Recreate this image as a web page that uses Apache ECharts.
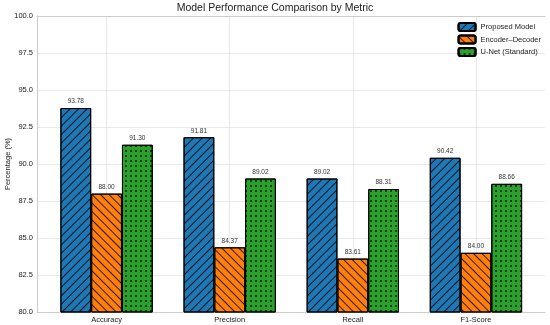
<!DOCTYPE html>
<html><head><meta charset="utf-8">
<script src="https://cdn.jsdelivr.net/npm/echarts@6/dist/echarts.min.js"></script>
<style>html,body{margin:0;padding:0;background:#fff}#c{width:550px;height:325px}</style>
</head><body><div id="c"></div>
<script>
const categories = ['Accuracy', 'Precision', 'Recall', 'F1-Score'];
const proposed = [93.78, 91.81, 89.02, 90.42];
const encoderDecoder = [88.00, 84.37, 83.61, 84.00];
const unet = [91.30, 89.02, 88.31, 88.66];
const seriesNames = ['Proposed Model', 'Encoder–Decoder', 'U-Net (Standard)'];

const chart = echarts.init(document.getElementById('c'), null, {renderer: 'canvas'});
const lbl = {show: true, position: 'top', distance: 3, fontSize: 6.5, color: '#333', fontFamily: 'Liberation Sans', formatter: p => p.value.toFixed(2)};
const hatch = (rot) => ({symbol: 'rect', dashArrayX: [1, 0], dashArrayY: [0.9, 4.2], rotation: rot, color: 'rgba(0,0,0,0.8)', symbolSize: 1});
const dots = {symbol: 'circle', symbolSize: 1, dashArrayX: [[1.4, 2.8]], dashArrayY: [1.4, 2.8], rotation: 0, color: 'rgba(0,0,0,0.8)'};
const mk = (name, data, color, decal) => ({
  name, type: 'bar', data, xAxisIndex: 1, yAxisIndex: 1, barGap: '0%', barCategoryGap: '25%',
  itemStyle: {color, borderColor: '#000', borderWidth: 1, decal},
  label: lbl, z: 3
});
const frameLine = {show: true, lineStyle: {color: '#cccccc', width: 1}};
chart.setOption({
  animation: false,
  aria: {enabled: false},
  textStyle: {fontFamily: 'Liberation Sans'},
  title: {text: 'Model Performance Comparison by Metric', left: 'center', top: 3, padding: 0,
    textStyle: {fontSize: 10.5, fontWeight: 'normal', color: '#222', fontFamily: 'Liberation Sans'}},
  legend: {orient: 'vertical', right: 9, top: 22, padding: 0, itemWidth: 17, itemHeight: 8, itemGap: 2.5,
    textStyle: {fontSize: 7.5, color: '#222'}, data: seriesNames},
  grid: [
    {left: 37, right: 5, top: 16, bottom: 13, outerBoundsMode: 'none', containLabel: false},
    {left: 45, right: 12.5, top: 16, bottom: 13, outerBoundsMode: 'none', containLabel: false}
  ],
  xAxis: [
    {gridIndex: 0, type: 'value', min: 0, max: 1, position: 'bottom', axisLine: frameLine,
     axisTick: {show: false}, axisLabel: {show: false}, splitLine: {show: false}},
    {gridIndex: 1, type: 'category', data: categories,
     axisLine: {show: false}, axisTick: {show: false},
     axisLabel: {fontSize: 7.5, color: '#222', margin: 4}, splitLine: {show: false}},
    {gridIndex: 1, type: 'value', min: 0, max: 8, interval: 1, position: 'top',
     axisLine: {show: false}, axisTick: {show: false}, axisLabel: {show: false},
     splitLine: {show: true, lineStyle: {color: ['rgba(0,0,0,0)', '#e3e3e3'], width: 0.8}}},
    {gridIndex: 0, type: 'value', min: 0, max: 1, position: 'top', axisLine: frameLine,
     axisTick: {show: false}, axisLabel: {show: false}, splitLine: {show: false}}
  ],
  yAxis: [
    {gridIndex: 0, type: 'value', min: 80, max: 100, interval: 2.5,
     name: 'Percentage (%)', nameLocation: 'middle', nameGap: 25, nameMoveOverlap: false,
     nameTextStyle: {fontSize: 7.5, color: '#222'},
     axisLine: frameLine, axisTick: {show: false},
     axisLabel: {fontSize: 7.5, color: '#222', margin: 4, formatter: v => v.toFixed(1)},
     splitLine: {show: true, lineStyle: {color: '#e3e3e3', width: 0.8}}},
    {gridIndex: 1, type: 'value', min: 80, max: 100, show: false},
    {gridIndex: 0, type: 'value', min: 80, max: 100, position: 'right', axisLine: frameLine,
     axisTick: {show: false}, axisLabel: {show: false}, splitLine: {show: false}}
  ],
  series: [
    mk(seriesNames[0], proposed, '#1f77b4', hatch(-Math.PI / 4)),
    mk(seriesNames[1], encoderDecoder, '#ff7f0e', hatch(Math.PI / 4)),
    mk(seriesNames[2], unet, '#2ca02c', dots)
  ]
});
</script></body></html>
